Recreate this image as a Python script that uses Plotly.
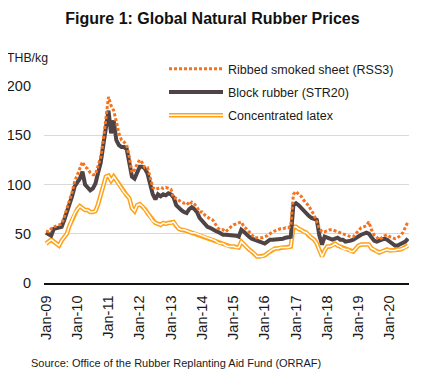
import plotly.graph_objects as go

# Monthly prices, Jan-2009 .. Aug-2020 (THB/kg)
rss3 = [53, 52, 55, 57, 58, 59, 60, 67, 75, 82, 92, 103, 110, 118, 123, 118, 116, 112, 110, 110,
        118, 128, 145, 168, 189, 180, 175, 164, 152, 145, 143, 140, 128, 112, 115, 121, 125, 122, 117, 117,
        108, 97, 95, 96, 97, 96, 97, 96, 95, 86, 86, 84, 82, 81, 82, 79, 82, 80, 77, 72,
        72, 69, 67, 65, 64, 60, 56, 54, 54, 52, 55, 57, 59, 60, 61, 62, 57, 55, 52, 49,
        46, 46, 46, 46, 47, 48, 50, 52, 53, 54, 55, 55, 56, 56, 58, 90, 93, 90, 88, 84,
        81, 78, 73, 69, 62, 55, 52, 52, 53, 54, 54, 53, 52, 51, 50, 49, 48, 47, 47, 50,
        54, 56, 57, 58, 62, 54, 49, 46, 44, 46, 48, 49, 47, 46, 45, 46, 48, 51, 56, 62]
str20 = [51, 49, 48, 55, 56, 56, 57, 64, 72, 78, 88, 98, 102, 106, 113, 100, 97, 94, 96, 101,
         112, 122, 140, 160, 175, 152, 165, 145, 140, 138, 138, 136, 124, 108, 106, 112, 118, 118, 116, 111,
         100, 90, 85, 90, 88, 90, 89, 91, 90, 87, 79, 76, 74, 72, 71, 75, 77, 75, 72, 66,
         63, 61, 57, 56, 54, 53, 52, 50, 49, 49, 49, 49, 48, 48, 47, 54, 52, 49, 47, 45,
         44, 43, 42, 42, 40, 42, 44, 44, 44, 44, 45, 45, 46, 47, 47, 79, 81, 79, 76, 73,
         71, 68, 66, 65, 64, 48, 39, 47, 46, 46, 44, 45, 46, 44, 44, 42, 42, 43, 44, 46,
         47, 49, 50, 51, 50, 46, 43, 42, 43, 45, 45, 44, 42, 39, 38, 38, 39, 40, 42, 45]
latex = [40, 42, 44, 42, 40, 38, 43, 46, 50, 58, 64, 71, 75, 78, 76, 74, 74, 72, 72, 73,
         80, 90, 99, 108, 109, 104, 108, 104, 100, 95, 92, 89, 86, 76, 73, 79, 80, 78, 75, 71,
         67, 63, 61, 60, 59, 61, 60, 61, 61, 62, 58, 55, 54, 54, 53, 52, 51, 51, 50, 49,
         48, 47, 46, 45, 44, 43, 41, 40, 40, 38, 37, 37, 37, 36, 36, 42, 39, 37, 34, 32,
         30, 27, 27, 27, 28, 30, 32, 34, 35, 35, 36, 36, 36, 36, 37, 57, 57, 55, 54, 52,
         51, 48, 46, 44, 40, 33, 27, 33, 37, 37, 38, 40, 38, 37, 35, 34, 34, 32, 32, 35,
         38, 39, 39, 39, 39, 35, 34, 32, 31, 32, 33, 34, 33, 33, 33, 34, 34, 35, 36, 38]

years = ["09", "10", "11", "12", "13", "14", "15", "16", "17", "18", "19", "20"]
tick_labels = ["Jan-" + y for y in years]
tick_pos = [12 * i for i in range(len(years))]
months = list(range(len(str20)))

FONT = "Liberation Sans"
C_RSS = "#F4731F"
C_STR = "#4E4446"
C_LAT = "#FFA218"
OFF = 8  # default page body margin
W, H = 425 - OFF, 378 - OFF
PL, PT, PW, PH = 44 - OFF, 86 - OFF, 365, 197  # plot area in figure pixels


def px_x(px):  # page pixel -> paper x
    return (px - OFF - PL) / PW


def px_y(py):  # page pixel -> paper y
    return (PT + PH - (py - OFF)) / PH


fig = go.Figure()
fig.add_trace(go.Scatter(x=months, y=latex, mode="lines", name="Concentrated latex",
                         legendgroup="c", legendrank=3, line=dict(color=C_LAT, width=4.5)))
fig.add_trace(go.Scatter(x=months, y=latex, mode="lines", name=" ",
                         line=dict(color="white", width=1.5), legend="legend2"))
fig.add_trace(go.Scatter(x=months, y=str20, mode="lines", name="Block rubber (STR20)",
                         legendgroup="b", legendrank=2, line=dict(color=C_STR, width=4)))
fig.add_trace(go.Scatter(x=months, y=rss3, mode="lines", name="Ribbed smoked sheet (RSS3)",
                         legendgroup="a", legendrank=1, line=dict(color=C_RSS, width=3, dash="3px,2px")))

LEG_X = px_x(164)
fig.update_layout(
    width=W, height=H,
    margin=dict(l=PL, r=W - PL - PW, t=PT, b=H - PT - PH, autoexpand=False),
    paper_bgcolor="white", plot_bgcolor="white",
    font=dict(family=FONT, color="#1a1a1a", size=14),
    title=dict(text="<b>Figure 1: Global Natural Rubber Prices</b>", x=(212.5 - OFF) / W, xref="container",
               xanchor="center", y=1 - (18 - OFF) / H, yref="container", yanchor="middle",
               font=dict(family=FONT, size=16, color="#111")),
    xaxis=dict(range=[-0.77, 139.4], tickmode="array", tickvals=tick_pos, ticktext=tick_labels,
               tickangle=-90, showgrid=False, showline=True, linecolor="#111", linewidth=1.5,
               ticks="", tickfont=dict(size=14.5), zeroline=False, automargin=False,
               ticklabelstandoff=5),
    yaxis=dict(range=[0, 200], tickvals=[0, 50, 100, 150, 200], showgrid=True,
               gridcolor="#D9D9D9", gridwidth=1, zeroline=False, showline=False,
               ticks="", tickfont=dict(size=14.5), ticklabelstandoff=12, automargin=False),
    legend=dict(x=LEG_X, xanchor="left", y=px_y(54), yanchor="top",
                bgcolor="rgba(0,0,0,0)", font=dict(size=12.5), itemwidth=54,
                traceorder="grouped", tracegroupgap=4),
    legend2=dict(x=LEG_X, xanchor="left", y=px_y(100.5), yanchor="top",
                 bgcolor="rgba(0,0,0,0)", font=dict(size=12.5), itemwidth=54),
    annotations=[
        dict(text="THB/kg", xref="paper", yref="paper", x=px_x(5), y=px_y(58),
             xanchor="left", yanchor="middle", showarrow=False, font=dict(size=12.3)),
        dict(text="Source: Office of the Rubber Replanting Aid Fund (ORRAF)", xref="paper", yref="paper",
             x=px_x(29), y=px_y(363), xanchor="left", yanchor="middle",
             showarrow=False, font=dict(size=11)),
    ],
)
fig.write_html("out.html")
